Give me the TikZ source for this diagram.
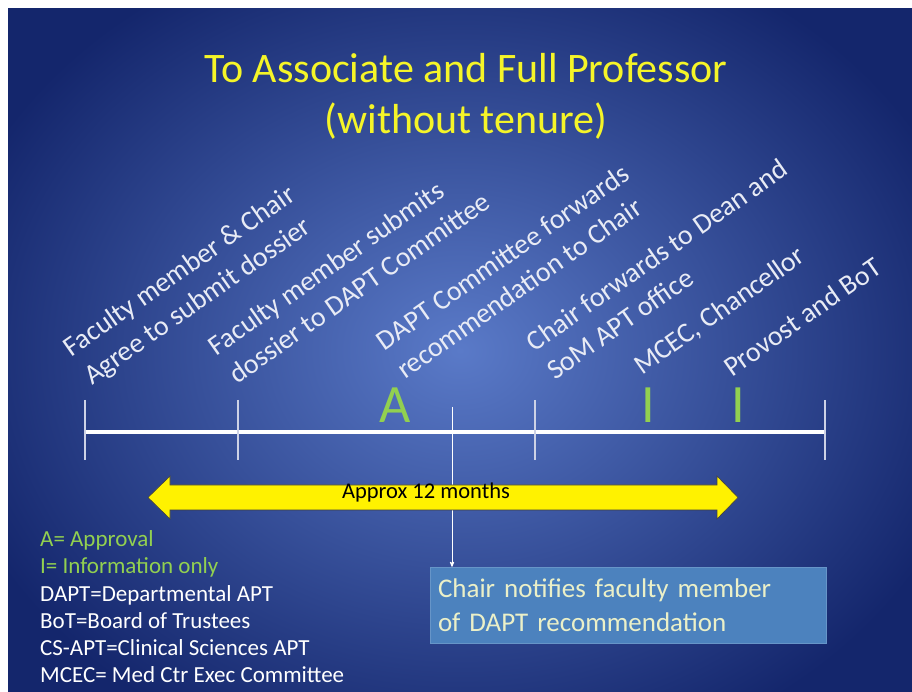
\documentclass[tikz,border=0pt]{standalone}
\usepackage{fontspec}
\setmainfont{Carlito}
\usetikzlibrary{arrows,positioning}

\definecolor{bgdark}{RGB}{20,38,108}
\definecolor{bglight}{RGB}{90,122,200}
\definecolor{ttl}{RGB}{245,245,40}
\definecolor{grn}{RGB}{146,208,80}
\definecolor{lbl}{RGB}{232,235,245}
\definecolor{tickgray}{RGB}{205,210,230}
\definecolor{boxblue}{RGB}{76,130,190}
\definecolor{boxtext}{RGB}{235,240,200}

\begin{document}
\begin{tikzpicture}[x=1pt,y=1pt,>=stealth',
	stage/.style={rotate=35,anchor=south west,inner sep=0pt,text depth=0pt,align=left,text=lbl,font=\fontsize{28}{35}\selectfont},
	tickline/.style={draw=tickgray,line width=1.2pt},
	grnmark/.style={text=grn,inner sep=0pt,font=\fontsize{54}{60}\selectfont},
	duration/.style={fill=yellow,draw=black!75,line width=0.6pt}]

\useasboundingbox (0,0) rectangle (912,692);
\begin{scope}
	\clip (8,0) rectangle (912,683);
	\shade[inner color=bglight,outer color=bgdark] (-70,-90) rectangle (990,773);
\end{scope}

\node[font=\fontsize{42}{51}\selectfont,text=ttl,align=center,anchor=south,inner sep=0pt,text depth=0pt] (title) at (466,558) {To Associate and Full Professor\\(without tenure)};

% timeline
\coordinate (t1) at (85,260);
\coordinate (t2) at (238,260);
\coordinate (t3) at (452,260);
\coordinate (t4) at (535,260);
\coordinate (t5) at (825,260);
\draw[white,line width=4pt] (t1) -- (t5);
\foreach \t in {t1,t2,t4,t5}
	\draw[tickline] ([yshift=32]\t) -- ([yshift=-28]\t);

\node[grnmark] (appr) at (395,286.5) {A};
\node[grnmark] (info1) at (648,286.5) {I};
\node[grnmark] (info2) at (738,286.5) {I};

\node[stage] (s1) at (92,306) {Faculty member \& Chair\\Agree to submit dossier};
\node[stage] (s2) at (237,307) {Faculty member submits\\dossier to DAPT Committee};
\node[stage] (s3) at (405,312) {DAPT Committee forwards\\recommendation to Chair};
\node[stage] (s4) at (555,311) {Chair forwards to Dean and\\SoM APT office};
\node[stage] (s5) at (642,316) {MCEC, Chancellor};
\node[stage] (s6) at (732,314) {Provost and BoT};

% legend and notice box
\node[anchor=south west,inner sep=0pt,text depth=0pt,align=left,text=white,font=\fontsize{23}{27.2}\selectfont] (legend) at (40,9) {\textcolor{grn}{A= Approval}\\\textcolor{grn}{I= Information only}\\DAPT=Departmental APT\\BoT=Board of Trustees\\CS-APT=Clinical Sciences APT\\MCEC= Med Ctr Exec Committee};

\node[fill=boxblue,draw=boxblue!85!white,minimum width=396,minimum height=76,text width=380,inner xsep=8,inner ysep=0,align=left,text=boxtext,font=\fontsize{27}{34}\selectfont] (notice) at (628,87) {Chair notifies faculty member\\of DAPT recommendation};

\draw[->,white,line width=0.8pt] ([yshift=25]t3) -- (t3 |- notice.north);

% approx duration
\coordinate (dl) at (148,194.5);
\draw[duration] (dl) -- ++(22,21.5) -- ++(0,-9) -- ++(547,0) -- ++(0,9) -- ++(21,-21.5) -- ++(-21,-21.5) -- ++(0,9) -- ++(-547,0) -- ++(0,-9) -- cycle;
\node[font=\fontsize{22.5}{26}\selectfont,anchor=base] (dur) at (426,193) {Approx 12 months};

\end{tikzpicture}
\end{document}
